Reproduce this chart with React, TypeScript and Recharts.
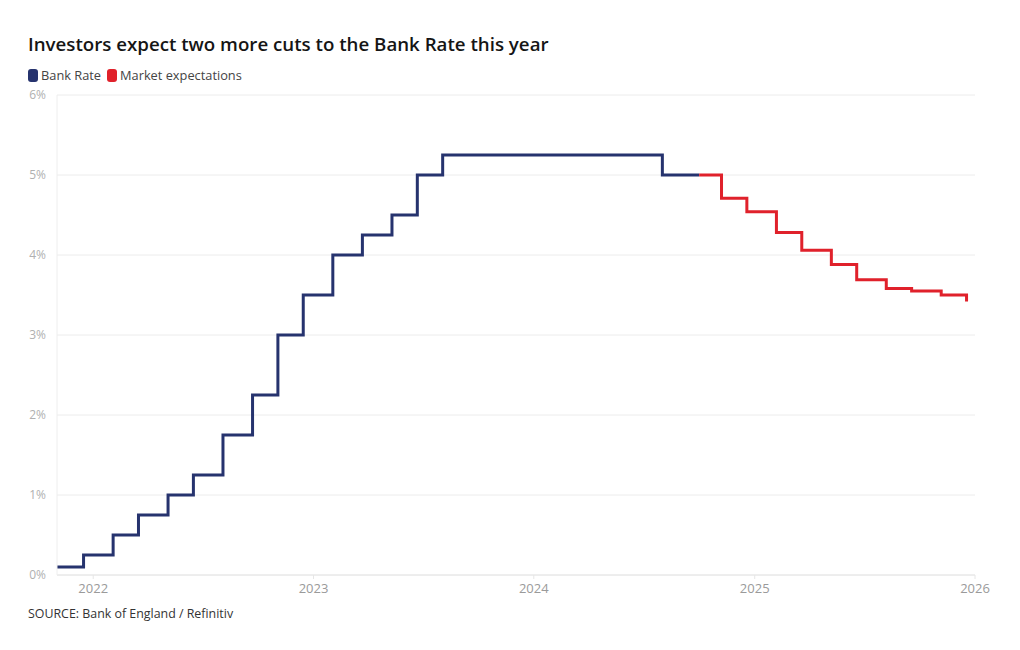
import React from "react";
import { LineChart, Line, XAxis, YAxis, CartesianGrid } from "recharts";

const bankRateDates = [
  "2021-11-02", "2021-12-16", "2022-02-03", "2022-03-17", "2022-05-05", "2022-06-16",
  "2022-08-04", "2022-09-22", "2022-11-03", "2022-12-15", "2023-02-02", "2023-03-23",
  "2023-05-11", "2023-06-22", "2023-08-03", "2024-08-01", "2024-10-01",
];
const bankRateValues = [0.1, 0.25, 0.5, 0.75, 1.0, 1.25, 1.75, 2.25, 3.0, 3.5, 4.0, 4.25, 4.5, 5.0, 5.25, 5.0, 5.0];

const marketDates = [
  "2024-10-01", "2024-11-07", "2024-12-19", "2025-02-06", "2025-03-20", "2025-05-08",
  "2025-06-19", "2025-08-07", "2025-09-18", "2025-11-06", "2025-12-18",
];
const marketValues = [5.0, 4.71, 4.54, 4.28, 4.06, 3.88, 3.69, 3.58, 3.55, 3.5, 3.42];

const yTicks = [0, 1, 2, 3, 4, 5, 6];
const xTickYears = [2022, 2023, 2024, 2025, 2026];
const domainStart = "2021-11-02";
const domainEnd = "2026-01-01";

const ts = (d: string) => Date.parse(d + "T00:00:00Z");
const bankData = bankRateDates.map((d, i) => ({ t: ts(d), v: bankRateValues[i] }));
const marketData = marketDates.map((d, i) => ({ t: ts(d), v: marketValues[i] }));
const xTicks = xTickYears.map((y) => Date.UTC(y, 0, 1));

const NAVY = "#26336e";
const RED = "#e0212b";
const FONT = "'Open Sans', sans-serif";

export default function App() {
  return (
    <div style={{ position: "fixed", left: 0, top: 0, width: 1020, height: 650, background: "#fff", fontFamily: FONT }}>
      <div style={{ position: "absolute", left: 28, top: 31, fontSize: 18.7, fontWeight: 600, color: "#151515", whiteSpace: "nowrap" }}>
        Investors expect two more cuts to the Bank Rate this year
      </div>
      <div style={{ position: "absolute", left: 28, top: 66, display: "flex", alignItems: "center", fontSize: 12.8, color: "#444", whiteSpace: "nowrap" }}>
        <span style={{ display: "inline-block", width: 10, height: 13, borderRadius: 3, background: NAVY, marginRight: 3 }} />
        <span style={{ marginRight: 6 }}>Bank Rate</span>
        <span style={{ display: "inline-block", width: 10, height: 13, borderRadius: 3, background: RED, marginRight: 3 }} />
        <span>Market expectations</span>
      </div>
      <div style={{ position: "absolute", left: 0, top: 0 }}>
        <LineChart width={1020} height={650} margin={{ top: 95, right: 45, bottom: 45, left: 0 }}>
          <CartesianGrid vertical={false} stroke="#ececec" />
          <XAxis
            type="number"
            dataKey="t"
            domain={[ts(domainStart), ts(domainEnd)]}
            ticks={xTicks}
            tickFormatter={(v: number) => String(new Date(v).getUTCFullYear())}
            allowDataOverflow
            height={30}
            stroke="#e6e6e6"
            tickSize={4}
            tickMargin={5}
            tick={{ fill: "#9a9a9a", fontSize: 13, fontFamily: FONT }}
          />
          <YAxis
            type="number"
            domain={[0, 6]}
            ticks={yTicks}
            tickFormatter={(v: number) => `${v}%`}
            width={57}
            stroke="#eeeeee"
            tickLine={false}
            tickMargin={5}
            tick={{ fill: "#b0b0b0", fontSize: 12, fontFamily: FONT }}
          />
          <Line data={bankData} dataKey="v" type="stepAfter" stroke={NAVY} strokeWidth={3} dot={false} isAnimationActive={false} />
          <Line data={marketData} dataKey="v" type="stepAfter" stroke={RED} strokeWidth={3} dot={false} isAnimationActive={false} />
        </LineChart>
      </div>
      <div style={{ position: "absolute", left: 28, top: 605, fontSize: 12.4, color: "#333", whiteSpace: "nowrap" }}>
        SOURCE: Bank of England / Refinitiv
      </div>
    </div>
  );
}
